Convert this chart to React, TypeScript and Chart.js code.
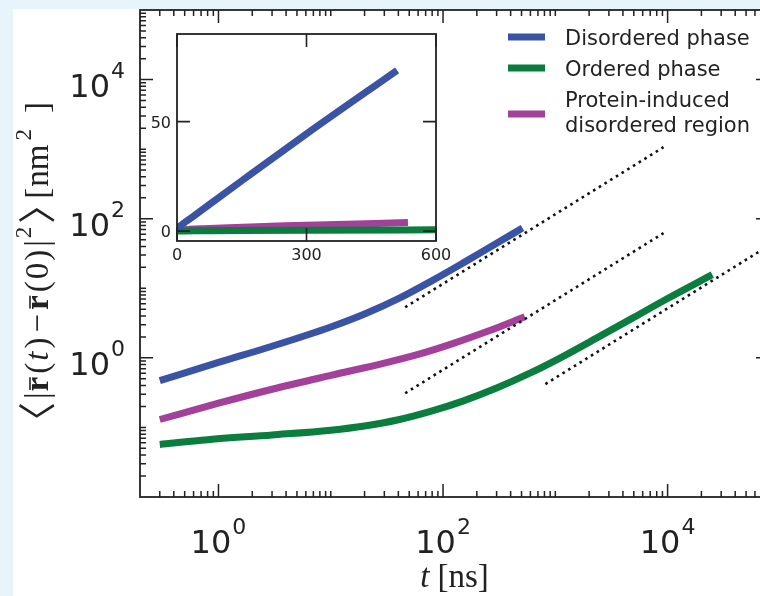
import React, { useEffect, useRef } from 'react';
import { Chart, registerables } from 'chart.js';

Chart.register(...registerables);

// ---------------- data ----------------
const legendLines: string[][] = [['Disordered phase'], ['Ordered phase'], ['Protein-induced', 'disordered region']];
const seriesColors = ['#3A53A4', '#0B7D3E', '#A2409A'];

const disorderedT = [0.3, 1, 3, 10, 20, 40, 80, 150, 300, 510];
const disorderedMSD = [0.47, 0.86, 1.47, 2.78, 4.27, 7.1, 12.9, 23.0, 44.4, 73.4];

const orderedT = [0.3, 0.8, 3, 10, 20, 40, 80, 150, 300, 600, 1200, 2500, 5000, 10000, 25000];
const orderedMSD = [0.057, 0.0667, 0.078, 0.0914, 0.105, 0.129, 0.173, 0.239, 0.368, 0.607, 1.07, 2.05, 3.82, 7.13, 15.7];

const proteinT = [0.3, 1, 3, 10, 30, 60, 120, 250, 535];
const proteinMSD = [0.13, 0.223, 0.354, 0.56, 0.84, 1.12, 1.59, 2.41, 3.9];

// dotted slope-1 guide lines (start, end)
const guide1T = [46, 9200];
const guide1MSD = [5.34, 1067];
const guide2T = [46, 9200];
const guide2MSD = [0.31, 62.1];
const guide3T = [816, 100000];
const guide3MSD = [0.42, 51.5];

// axes
const xMin = 0.2;
const xMax = 8e4;
const yMin = 0.01;
const yMax = 1e5;
const xMajorTicks = [1, 100, 10000];
const xTickExponents = ['0', '2', '4'];
const yMajorTicks = [1, 100, 10000];
const yTickExponents = ['0', '2', '4'];

const insetXTicks = [0, 300, 600];
const insetXTickLabels = ['0', '300', '600'];
const insetYTicks = [0, 50];
const insetYTickLabels = ['0', '50'];
const insetXMin = 0;
const insetXMax = 600;
const insetYMin = -4.5;
const insetYMax = 90;

// ---------------- helpers ----------------
const INK = '#222222';
const pts = (xs: number[], ys: number[]) => xs.map((x, i) => ({ x, y: ys[i] }));

const curveDatasets = () => [
  { label: legendLines[0].join(' '), data: pts(disorderedT, disorderedMSD), color: seriesColors[0] },
  { label: legendLines[1].join(' '), data: pts(orderedT, orderedMSD), color: seriesColors[1] },
  { label: legendLines[2].join(' '), data: pts(proteinT, proteinMSD), color: seriesColors[2] },
].map((d) => ({
  label: d.label,
  data: d.data,
  borderColor: d.color,
  backgroundColor: d.color,
  borderWidth: 7,
  borderCapStyle: 'butt' as const,
  pointRadius: 0,
  cubicInterpolationMode: 'monotone' as const,
  fill: false,
}));

const guideDatasets = () => [
  pts(guide1T, guide1MSD),
  pts(guide2T, guide2MSD),
  pts(guide3T, guide3MSD),
].map((data, i) => ({
  label: 'guide' + (i + 1),
  data,
  borderColor: '#111111',
  borderWidth: 2.6,
  borderDash: [2.6, 4.1],
  borderCapStyle: 'butt' as const,
  pointRadius: 0,
  fill: false,
}));

function powerLabel(ctx: CanvasRenderingContext2D, exp: string, x: number, tickY: number, mode: 'x' | 'y') {
  const baseFont = "32px 'DejaVu Sans'";
  const supFont = "22px 'DejaVu Sans'";
  ctx.font = baseFont;
  const wb = ctx.measureText('10').width;
  ctx.font = supFont;
  const ws = ctx.measureText(exp).width;
  const total = wb + 1 + ws;
  let left: number;
  let baseY: number;
  if (mode === 'x') {
    left = x - total / 2;
    baseY = tickY;
  } else {
    left = x - total;
    baseY = tickY + 17.5;
  }
  ctx.textAlign = 'left';
  ctx.textBaseline = 'alphabetic';
  ctx.font = baseFont;
  ctx.fillText('10', left, baseY);
  ctx.font = supFont;
  ctx.fillText(exp, left + wb + 1, baseY - 19);
}

type Seg = { t: string; font: string; gap: number; dy?: number; bar?: boolean; ink?: boolean };
const RM = "33px 'Liberation Serif'";
const IT = "italic 33px 'Liberation Serif'";
const BF = "bold 33px 'Liberation Serif'";
const SUP = "23px 'Liberation Serif'";
const BR = "38px 'Noto Sans CJK JP'";
const yTitleSegs: Seg[] = [
  { t: '〈', font: BR, gap: 0, ink: true, dy: 3 },
  { t: '|', font: RM, gap: 4 },
  { t: 'r', font: BF, gap: 1, bar: true },
  { t: '(', font: RM, gap: 3 },
  { t: 't', font: IT, gap: 2 },
  { t: ')', font: RM, gap: 3 },
  { t: '−', font: RM, gap: 5 },
  { t: 'r', font: BF, gap: 4, bar: true },
  { t: '(', font: RM, gap: 3 },
  { t: '0', font: RM, gap: 2 },
  { t: ')', font: RM, gap: 2 },
  { t: '|', font: RM, gap: 3 },
  { t: '2', font: SUP, gap: 2, dy: -17 },
  { t: '〉', font: BR, gap: 4, ink: true, dy: 3 },
  { t: '[', font: RM, gap: 9 },
  { t: 'nm', font: RM, gap: 1 },
  { t: '2', font: SUP, gap: 4, dy: -17 },
  { t: ']', font: RM, gap: 16 },
];

const mainDecor = {
  id: 'mainDecor',
  afterDraw(chart: any) {
    const { ctx, chartArea: a, scales } = chart;
    const xs = scales.x;
    const ys = scales.y;
    ctx.save();
    // spines
    ctx.strokeStyle = INK;
    ctx.lineWidth = 1.8;
    ctx.strokeRect(a.left, a.top, a.right - a.left, a.bottom - a.top);
    // ticks
    ctx.lineWidth = 1.5;
    ctx.beginPath();
    for (let n = -2; n <= 5; n++) {
      for (let k = 1; k <= 9; k++) {
        const v = k * Math.pow(10, n);
        const isMajX = xMajorTicks.some((m) => Math.abs(m - v) < 1e-9 * m);
        if (v > xMin * 1.0001 && v < xMax * 0.9999) {
          const px = xs.getPixelForValue(v);
          const len = isMajX ? 13 : 6;
          ctx.moveTo(px, a.bottom);
          ctx.lineTo(px, a.bottom - len);
          ctx.moveTo(px, a.top);
          ctx.lineTo(px, a.top + len);
        }
        const isMajY = yMajorTicks.some((m) => Math.abs(m - v) < 1e-9 * m);
        if (v > yMin * 1.0001 && v < yMax * 0.9999) {
          const py = ys.getPixelForValue(v);
          const len = isMajY ? 13 : 6;
          ctx.moveTo(a.left, py);
          ctx.lineTo(a.left + len, py);
          ctx.moveTo(a.right, py);
          ctx.lineTo(a.right - len, py);
        }
      }
    }
    ctx.stroke();
    // tick labels
    ctx.fillStyle = INK;
    xMajorTicks.forEach((v, i) => powerLabel(ctx, xTickExponents[i], xs.getPixelForValue(v), a.bottom + 56, 'x'));
    yMajorTicks.forEach((v, i) => powerLabel(ctx, yTickExponents[i], a.left - 15, ys.getPixelForValue(v), 'y'));

    // x title: t [ns]
    ctx.textBaseline = 'alphabetic';
    ctx.textAlign = 'left';
    ctx.font = IT;
    const wt = ctx.measureText('t').width;
    ctx.font = RM;
    const wn = ctx.measureText('[ns]').width;
    const tot = wt + 8 + wn;
    const cx = (a.left + a.right) / 2;
    ctx.font = IT;
    ctx.fillText('t', cx - tot / 2, 587);
    ctx.font = RM;
    ctx.fillText('[ns]', cx - tot / 2 + wt + 8, 587);

    // y title (rotated)
    ctx.save();
    ctx.translate(48, 418);
    ctx.rotate(-Math.PI / 2);
    let pos = 0;
    yTitleSegs.forEach((s) => {
      pos += s.gap;
      ctx.font = s.font;
      const m = ctx.measureText(s.t);
      const dy = s.dy || 0;
      if (s.ink) {
        const l = m.actualBoundingBoxLeft;
        const r = m.actualBoundingBoxRight;
        ctx.fillText(s.t, pos + l, dy);
        pos += l + r;
        return;
      }
      const w = m.width;
      ctx.fillText(s.t, pos, dy);
      if (s.bar) {
        ctx.beginPath();
        ctx.lineWidth = 1.6;
        ctx.moveTo(pos + 1.5, -18);
        ctx.lineTo(pos + w - 0.5, -18);
        ctx.stroke();
      }
      pos += w;
    });
    ctx.restore();

    // legend
    const swY = [37, 68, 114];
    const txtY = [[45], [76], [107, 132]];
    ctx.lineWidth = 7;
    ctx.lineCap = 'butt';
    legendLines.forEach((lines, i) => {
      ctx.strokeStyle = seriesColors[i];
      ctx.beginPath();
      ctx.moveTo(508, swY[i]);
      ctx.lineTo(545, swY[i]);
      ctx.stroke();
      ctx.fillStyle = INK;
      ctx.font = "21px 'DejaVu Sans'";
      lines.forEach((ln, j) => ctx.fillText(ln, 565, txtY[i][j]));
    });
    ctx.restore();
  },
};

const insetDecor = {
  id: 'insetDecor',
  beforeDatasetsDraw(chart: any) {
    const { ctx, chartArea: a } = chart;
    ctx.save();
    ctx.fillStyle = '#ffffff';
    ctx.fillRect(a.left, a.top, a.right - a.left, a.bottom - a.top);
    ctx.restore();
  },
  afterDraw(chart: any) {
    const { ctx, chartArea: a, scales } = chart;
    const xs = scales.x;
    const ys = scales.y;
    ctx.save();
    ctx.strokeStyle = INK;
    ctx.lineWidth = 1.8;
    ctx.strokeRect(a.left, a.top, a.right - a.left, a.bottom - a.top);
    ctx.lineWidth = 1.6;
    ctx.beginPath();
    insetXTicks.forEach((v) => {
      const px = xs.getPixelForValue(v);
      ctx.moveTo(px, a.bottom);
      ctx.lineTo(px, a.bottom - 13);
      ctx.moveTo(px, a.top);
      ctx.lineTo(px, a.top + 13);
    });
    insetYTicks.forEach((v) => {
      const py = ys.getPixelForValue(v);
      ctx.moveTo(a.left, py);
      ctx.lineTo(a.left + 13, py);
      ctx.moveTo(a.right, py);
      ctx.lineTo(a.right - 13, py);
    });
    ctx.stroke();
    ctx.fillStyle = INK;
    ctx.font = "16px 'DejaVu Sans'";
    ctx.textBaseline = 'alphabetic';
    ctx.textAlign = 'center';
    insetXTicks.forEach((v, i) => ctx.fillText(insetXTickLabels[i], xs.getPixelForValue(v), a.bottom + 19));
    ctx.textAlign = 'right';
    insetYTicks.forEach((v, i) => ctx.fillText(insetYTickLabels[i], a.left - 6, ys.getPixelForValue(v) + 6));
    ctx.restore();
  },
};

export default function App() {
  const mainRef = useRef<HTMLCanvasElement>(null);
  const insetRef = useRef<HTMLCanvasElement>(null);

  useEffect(() => {
    const main = new Chart(mainRef.current as HTMLCanvasElement, {
      type: 'line',
      data: { datasets: [...guideDatasets(), ...curveDatasets()] as any },
      options: {
        responsive: false,
        animation: false,
        devicePixelRatio: 1,
        events: [],
        layout: { padding: { top: 10, right: 21, left: 0, bottom: 0 } },
        plugins: { legend: { display: false }, tooltip: { enabled: false } },
        scales: {
          x: {
            type: 'logarithmic',
            min: xMin,
            max: xMax,
            grid: { display: false },
            border: { display: false },
            ticks: { display: false },
            afterFit: (s: any) => { s.height = 99; },
          },
          y: {
            type: 'logarithmic',
            min: yMin,
            max: yMax,
            grid: { display: false },
            border: { display: false },
            ticks: { display: false },
            afterFit: (s: any) => { s.width = 140; },
          },
        },
      } as any,
      plugins: [mainDecor],
    });

    const insetSets = curveDatasets().map((d) => ({ ...d, clip: 0 }));
    const inset = new Chart(insetRef.current as HTMLCanvasElement, {
      type: 'line',
      data: { datasets: insetSets as any },
      options: {
        responsive: false,
        animation: false,
        devicePixelRatio: 1,
        events: [],
        layout: { padding: { top: 14, right: 14, left: 0, bottom: 0 } },
        plugins: { legend: { display: false }, tooltip: { enabled: false } },
        scales: {
          x: {
            type: 'linear',
            min: insetXMin,
            max: insetXMax,
            grid: { display: false },
            border: { display: false },
            ticks: { display: false },
            afterFit: (s: any) => { s.height = 29; },
          },
          y: {
            type: 'linear',
            min: insetYMin,
            max: insetYMax,
            grid: { display: false },
            border: { display: false },
            ticks: { display: false },
            afterFit: (s: any) => { s.width = 37; },
          },
        },
      } as any,
      plugins: [insetDecor],
    });

    return () => {
      main.destroy();
      inset.destroy();
    };
  }, []);

  return (
    <div style={{ position: 'fixed', left: 0, top: 0, width: 760, height: 596, overflow: 'hidden', background: '#E8F4FB' }}>
      <div style={{ position: 'absolute', left: 13, top: 9, right: 0, bottom: 0, background: '#ffffff' }} />
      <canvas ref={mainRef} width={790} height={596} style={{ position: 'absolute', left: 0, top: 0, width: 790, height: 596 }} />
      <canvas ref={insetRef} width={310} height={250} style={{ position: 'absolute', left: 140, top: 20, width: 310, height: 250 }} />
    </div>
  );
}
